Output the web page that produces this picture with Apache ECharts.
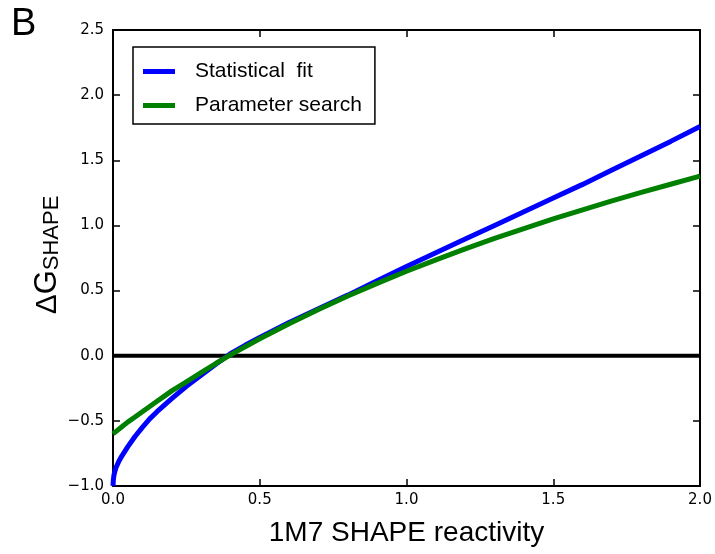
<!DOCTYPE html>
<html>
<head>
<meta charset="utf-8">
<script src="https://cdn.jsdelivr.net/npm/echarts@6/dist/echarts.min.js"></script>
<style>html,body{margin:0;padding:0;background:#fff;}#c{width:715px;height:554px;}</style>
</head>
<body>
<div id="c"></div>
<script>
var xTicks = ['0.0', '0.5', '1.0', '1.5', '2.0'];
var yTicks = ['\u22121.0', '\u22120.5', '0.0', '0.5', '1.0', '1.5', '2.0', '2.5'];

var statX = [0, 0.001, 0.003, 0.006, 0.01, 0.02, 0.03, 0.05, 0.075, 0.1, 0.125, 0.15, 0.2, 0.25, 0.3, 0.35, 0.4, 0.45, 0.5, 0.6, 0.7, 0.8, 0.9, 1.0, 1.1, 1.2, 1.3, 1.4, 1.5, 1.6, 1.7, 1.8, 1.9, 2.0];
var statY = [-1.0, -0.96, -0.92, -0.89, -0.86, -0.81, -0.77, -0.70, -0.62, -0.55, -0.485, -0.43, -0.33, -0.235, -0.15, -0.065, 0.015, 0.08, 0.14, 0.255, 0.36, 0.465, 0.575, 0.685, 0.79, 0.895, 1.0, 1.105, 1.21, 1.315, 1.425, 1.535, 1.645, 1.76];

var paramX = [0, 0.025, 0.05, 0.075, 0.1, 0.125, 0.15, 0.175, 0.2, 0.25, 0.3, 0.35, 0.4, 0.5, 0.6, 0.7, 0.8, 0.9, 1.0, 1.1, 1.2, 1.3, 1.4, 1.5, 1.6, 1.7, 1.8, 1.9, 2.0];
var paramY = [-0.60, -0.555, -0.51, -0.47, -0.43, -0.39, -0.35, -0.31, -0.27, -0.20, -0.13, -0.06, 0.006, 0.13, 0.246, 0.355, 0.458, 0.555, 0.648, 0.735, 0.82, 0.90, 0.976, 1.05, 1.12, 1.188, 1.253, 1.316, 1.378];

var zeroX = [0, 2];
var zeroY = [0, 0];

function pairs(xs, ys) { return xs.map(function (x, i) { return [x, ys[i]]; }); }

var chart = echarts.init(document.getElementById('c'));
var tickStyle = { inside: true, length: 7, lineStyle: { color: '#000', width: 1.5 } };
var lineStyleAxis = { show: true, onZero: false, lineStyle: { color: '#000', width: 2 } };
chart.setOption({
  animation: false,
  backgroundColor: '#fff',
  grid: { left: 113, right: 15, top: 30, bottom: 68, containLabel: false, outerBoundsMode: 'none' },
  xAxis: [{
    type: 'value', min: 0, max: 2, interval: 0.5, position: 'bottom',
    axisLine: lineStyleAxis, axisTick: tickStyle, splitLine: { show: false },
    axisLabel: { color: '#000', fontFamily: 'DejaVu Sans', fontSize: 15, margin: 7,
      formatter: function (v) { return xTicks[Math.round(v / 0.5)]; } },
    name: '1M7 SHAPE reactivity', nameLocation: 'middle', nameGap: 33,
    nameTextStyle: { color: '#000', fontFamily: 'Liberation Sans', fontSize: 28, verticalAlign: 'top' }
  }, {
    type: 'value', min: 0, max: 2, interval: 0.5, position: 'top',
    axisLine: lineStyleAxis, axisTick: tickStyle, splitLine: { show: false }, axisLabel: { show: false }
  }],
  yAxis: [{
    type: 'value', min: -1, max: 2.5, interval: 0.5, position: 'left',
    axisLine: lineStyleAxis, axisTick: tickStyle, splitLine: { show: false },
    axisLabel: { color: '#000', fontFamily: 'DejaVu Sans', fontSize: 15, margin: 9,
      formatter: function (v) { return yTicks[Math.round((v + 1) / 0.5)]; } }
  }, {
    type: 'value', min: -1, max: 2.5, interval: 0.5, position: 'right',
    axisLine: lineStyleAxis, axisTick: tickStyle, splitLine: { show: false }, axisLabel: { show: false }
  }],
  legend: {
    left: 133, top: 47, orient: 'vertical',
    data: ['Statistical  fit', 'Parameter search'],
    icon: 'rect', itemWidth: 32, itemHeight: 5, itemGap: 13,
    borderColor: '#000', borderWidth: 1.5, borderRadius: 0,
    padding: [14, 13, 8, 10],
    textStyle: { color: '#000', fontFamily: 'Liberation Sans', fontSize: 21, padding: [0, 0, 0, 15] }
  },
  graphic: [
    { type: 'text', left: 11, top: 6, style: { text: 'B', font: '38px Liberation Sans', fill: '#000' } },
    { type: 'text', x: 47, y: 255, rotation: Math.PI / 2, originX: 0, originY: 0,
      style: { text: '{a|\u0394}{g|G}{s|SHAPE}', align: 'center', verticalAlign: 'middle',
        rich: {
          a: { font: '30px Liberation Sans', fill: '#000', verticalAlign: 'bottom' },
          g: { font: '31px Liberation Sans', fill: '#000', verticalAlign: 'bottom' },
          s: { font: '22px Liberation Sans', fill: '#000', verticalAlign: 'bottom' }
        } } }
  ],
  series: [
    { name: 'zero', type: 'line', data: pairs(zeroX, zeroY), symbol: 'none', silent: true,
      lineStyle: { color: '#000', width: 4 }, z: 1 },
    { name: 'Statistical  fit', type: 'line', data: pairs(statX, statY), symbol: 'none',
      color: '#0000ff', lineStyle: { color: '#0000ff', width: 5 }, z: 2 },
    { name: 'Parameter search', type: 'line', data: pairs(paramX, paramY), symbol: 'none',
      color: '#008000', lineStyle: { color: '#008000', width: 5 }, z: 3 }
  ]
});
</script>
</body>
</html>
